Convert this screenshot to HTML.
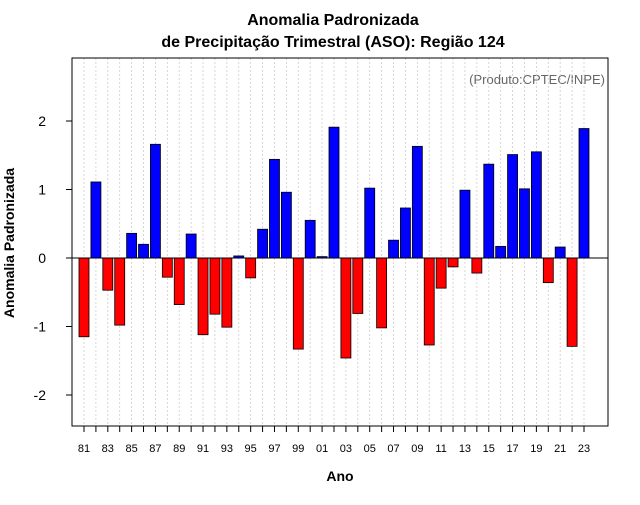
<!DOCTYPE html>
<html><head><meta charset="utf-8"><style>
body{margin:0;background:#fff}
svg{font-family:"Liberation Sans",sans-serif}
</style></head><body>
<svg id="c" width="640" height="500" viewBox="0 0 640 500">
<text x="333" y="25" text-anchor="middle" font-size="16" font-weight="bold">Anomalia Padronizada</text>
<text x="333" y="47" text-anchor="middle" font-size="16" font-weight="bold">de Precipitação Trimestral (ASO): Região 124</text>
<text x="605" y="84" text-anchor="end" font-size="13" fill="#666">(Produto:CPTEC/INPE)</text>
<text x="340" y="481" text-anchor="middle" font-size="14" font-weight="bold">Ano</text>
<text transform="translate(14,243) rotate(-90)" text-anchor="middle" font-size="14" font-weight="bold">Anomalia Padronizada</text>
<g id="grid"></g><g id="bars"></g><g id="axes"></g>
<rect x="72" y="58" width="536" height="368" fill="none" stroke="#000"/>
</svg>
<script>
const years=[81,82,83,84,85,86,87,88,89,90,91,92,93,94,95,96,97,98,99,0,1,2,3,4,5,6,7,8,9,10,11,12,13,14,15,16,17,18,19,20,21,22,23];
const values=[-1.15,1.11,-0.47,-0.98,0.36,0.2,1.66,-0.28,-0.68,0.35,-1.12,-0.82,-1.01,0.03,-0.29,0.42,1.44,0.96,-1.33,0.55,0.02,1.91,-1.46,-0.81,1.02,-1.02,0.26,0.73,1.63,-1.27,-0.44,-0.13,0.99,-0.22,1.37,0.17,1.51,1.01,1.55,-0.36,0.16,-1.29,1.89];
const yTicks=[-2,-1,0,1,2];
const NS="http://www.w3.org/2000/svg";
const x=i=>84+i*(500/42);
const y=v=>258-v*68.5;
function mk(t,a,p){const e=document.createElementNS(NS,t);for(const k in a)e.setAttribute(k,a[k]);p.appendChild(e);return e;}
const g=document.getElementById('grid'),b=document.getElementById('bars'),ax=document.getElementById('axes');
years.forEach((yr,i)=>{
 const gl=mk('line',{x1:x(i),x2:x(i),y1:58,y2:426,stroke:'#ccc','stroke-dasharray':'2,2','stroke-width':0.8},g);
 
 
 const tk=mk('line',{x1:x(i),x2:x(i),y1:426,y2:432,stroke:'#000'},ax);
 
 
 if(i%2==0){const t=mk('text',{x:x(i),y:452,'text-anchor':'middle','font-size':11},ax);t.textContent=String(yr).padStart(2,'0');
 
 }
 const v=values[i];
 const r=mk('rect',{x:x(i)-5,width:10,y:Math.min(y(v),y(0)),height:Math.abs(y(v)-y(0)),fill:v>=0?'#0000ff':'#ff0000',stroke:'#000','stroke-width':0.8},b);
 
 
});
const zl=mk('line',{x1:72,x2:608,y1:y(0),y2:y(0),stroke:'#000'},ax);


yTicks.forEach(v=>{
 const l=mk('line',{x1:66,x2:72,y1:y(v),y2:y(v),stroke:'#000'},ax);
 
 
 const t=mk('text',{x:46,y:y(v)+5,'text-anchor':'end','font-size':14},ax);t.textContent=v<0?'-'+Math.abs(v):v;
 
 
});
</script>
</body></html>
